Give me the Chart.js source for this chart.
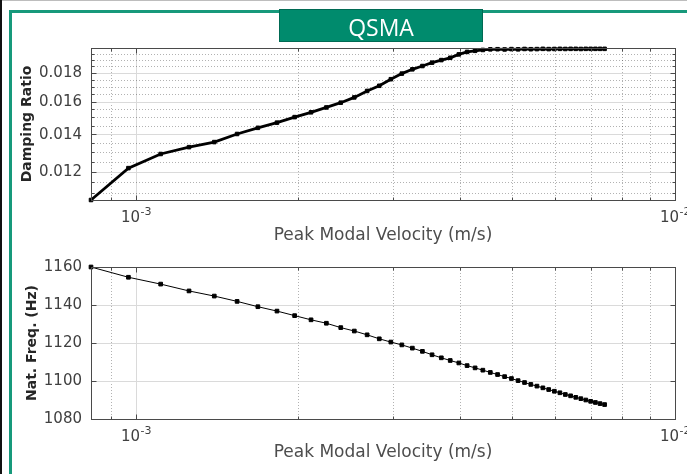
<!DOCTYPE html>
<html>
<head>
<meta charset="utf-8">
<title>QSMA</title>
<script src="https://cdn.jsdelivr.net/npm/chart.js@4.4.1/dist/chart.umd.min.js"></script>
<style>
  html, body { margin: 0; padding: 0; background: #fff; }
  #page { position: relative; width: 687px; height: 474px; overflow: hidden; background: #fff; }
  .rule-top { position: absolute; left: 0; top: 0; width: 687px; height: 1px; background: #bdbdbd; }
  .rule-left { position: absolute; left: 0; top: 0; width: 2px; height: 474px; background: #111; }
  .frame { position: absolute; left: 9px; top: 10px; width: 720px; height: 520px;
           border-left: 3px solid #17997b; border-top: 3px solid #17997b; }
  .banner { position: absolute; left: 279px; top: 9px; width: 204px; height: 33px; box-sizing: border-box;
            background: #008b6d; border: 1px solid #006a53; color: #fff; padding-top: 2px;
            font: 23px "Open Sans", sans-serif; display: flex; align-items: center; justify-content: center; }
  canvas { position: absolute; left: 0; }
</style>
</head>
<body>
<div id="page">
  <div class="rule-top"></div>
  <div class="rule-left"></div>
  <div class="frame"></div>
  <canvas id="damping" width="720" height="220" style="top:30px"></canvas>
  <canvas id="freq" width="720" height="229" style="top:245px"></canvas>
  <div class="banner">QSMA</div>
</div>
<script>
// peak modal velocity of each measurement (m/s)
const velocity = [
  0.000825, 0.000968, 0.001111, 0.001254, 0.001397, 0.001540, 0.001683, 0.001826, 0.001969, 0.002112,
  0.002255, 0.002398, 0.002541, 0.002684, 0.002827, 0.002970, 0.003113, 0.003256, 0.003399, 0.003542,
  0.003685, 0.003828, 0.003971, 0.004114, 0.004257, 0.004400, 0.004543, 0.004686, 0.004829, 0.004972,
  0.005115, 0.005258, 0.005401, 0.005544, 0.005687, 0.005830, 0.005973, 0.006116, 0.006259, 0.006402,
  0.006545, 0.006688, 0.006831, 0.006974, 0.007117, 0.007260, 0.007403
];
const dampingRatio = [
  0.01070, 0.01220, 0.01293, 0.01330, 0.01358, 0.01404, 0.01440, 0.01471, 0.01505, 0.01535,
  0.01566, 0.01597, 0.01632, 0.01676, 0.01712, 0.01759, 0.01800, 0.01832, 0.01857, 0.01883,
  0.01903, 0.01921, 0.01948, 0.01968, 0.01977, 0.01984, 0.01989, 0.01990, 0.01988, 0.01991,
  0.01989, 0.01992, 0.01990, 0.01991, 0.01993, 0.01991, 0.01992, 0.01993, 0.01992, 0.01993,
  0.01993, 0.01992, 0.01993, 0.01993, 0.01993, 0.01993, 0.01993
];
const natFreq = [
  1160.0, 1154.6, 1151.0, 1147.4, 1144.7, 1141.9, 1139.1, 1136.8, 1134.4, 1132.2,
  1130.4, 1128.1, 1126.3, 1124.3, 1122.2, 1120.5, 1119.0, 1117.3, 1115.6, 1113.8,
  1112.2, 1110.8, 1109.5, 1108.1, 1106.9, 1105.7, 1104.5, 1103.4, 1102.3, 1101.3,
  1100.2, 1099.2, 1098.2, 1097.3, 1096.4, 1095.5, 1094.6, 1093.8, 1092.9, 1092.2,
  1091.4, 1090.7, 1090.0, 1089.3, 1088.7, 1088.1, 1087.6
];

// axis ticks; decade labels are written as base + exponent
const xMajorTicks = [0.001, 0.01];
const xLabelBase = ['10', '10'];
const xLabelExp = ['-3', '-2'];
const xMinorTicks = [0.0009, 0.002, 0.003, 0.004, 0.005, 0.006, 0.007, 0.008, 0.009];
const dampMajorTicks = [0.012, 0.014, 0.016, 0.018];
const dampMajorLabels = ['0.012', '0.014', '0.016', '0.018'];
const dampMinorTicks = [0.011, 0.0115, 0.0125, 0.013, 0.0135, 0.0145, 0.015, 0.0155,
                        0.0165, 0.017, 0.0175, 0.0185, 0.019, 0.0195];
const freqTicks = [1080, 1100, 1120, 1140, 1160];
const freqLabels = ['1080', '1100', '1120', '1140', '1160'];

const X_MIN = 0.000825, X_MAX = 0.01;

const FONT = '"DejaVu Sans", "Liberation Sans", sans-serif';
Chart.defaults.font.family = FONT;
Chart.defaults.animation = false;

const tickColor = '#404040';
const majorGrid = '#dadada';
const minorGrid = 'rgba(0,0,0,0.3)';

function tickList(major, minor) {
  return major.map(v => ({ value: v, major: true }))
    .concat(minor.map(v => ({ value: v, major: false })))
    .sort((a, b) => a.value - b.value);
}

function labelFor(values, labels) {
  return function(value, index, ticks) {
    if (!ticks[index].major) return '';
    const k = values.findIndex(v => Math.abs(v - value) < 1e-9);
    return k < 0 ? '' : labels[k];
  };
}

const gridColor = c => (c.tick && !c.tick.major) ? minorGrid : majorGrid;
const gridDash = c => (c.tick && !c.tick.major) ? [1, 2] : [];

function velocityAxis(axisHeight, titleGap) {
  return {
    type: 'logarithmic',
    position: 'bottom',
    min: X_MIN,
    max: X_MAX,
    afterBuildTicks: s => { s.ticks = tickList(xMajorTicks, xMinorTicks); },
    afterFit: s => { s.height = axisHeight; },
    grid: { color: gridColor, lineWidth: 1, drawTicks: false },
    border: { display: false, dash: gridDash },
    ticks: { display: false, autoSkip: false },
    title: {
      display: true, text: 'Peak Modal Velocity (m/s)', color: '#4d4d4d',
      font: { size: 17 }, padding: { top: 0, bottom: titleGap }
    }
  };
}

// box round the plot area with inward tick marks on all four sides
const axesBox = {
  id: 'axesBox',
  afterDraw(chart) {
    const { ctx, chartArea: a, scales } = chart;
    const al = p => Math.round(p - 0.5) + 0.5;
    const l = al(a.left), r = al(a.right), t = al(a.top), b = al(a.bottom);
    ctx.save();
    ctx.strokeStyle = '#4a4a4a';
    ctx.lineWidth = 1;
    ctx.strokeRect(l, t, r - l, b - t);
    ctx.beginPath();
    scales.x.ticks.forEach(tk => {
      const px = al(scales.x.getPixelForValue(tk.value));
      const len = tk.major ? 5 : 3;
      ctx.moveTo(px, b); ctx.lineTo(px, b - len);
      ctx.moveTo(px, t); ctx.lineTo(px, t + len);
    });
    scales.y.ticks.forEach(tk => {
      const py = al(scales.y.getPixelForValue(tk.value));
      const len = tk.major ? 5 : 3;
      ctx.moveTo(l, py); ctx.lineTo(l + len, py);
      ctx.moveTo(r, py); ctx.lineTo(r - len, py);
    });
    ctx.stroke();
    ctx.restore();
  }
};

// decade labels under the velocity axis, with a raised exponent
const decadeLabels = {
  id: 'decadeLabels',
  afterDraw(chart) {
    const { ctx, chartArea: a, scales } = chart;
    ctx.save();
    ctx.fillStyle = tickColor;
    ctx.textBaseline = 'alphabetic';
    ctx.textAlign = 'left';
    xMajorTicks.forEach((v, i) => {
      const px = scales.x.getPixelForValue(v);
      ctx.font = '15px ' + FONT;
      const wb = ctx.measureText(xLabelBase[i]).width;
      ctx.font = '11px ' + FONT;
      const we = ctx.measureText(xLabelExp[i]).width;
      const x0 = px - (wb + we) / 2;
      ctx.font = '15px ' + FONT;
      ctx.fillText(xLabelBase[i], x0, a.bottom + 22);
      ctx.font = '11px ' + FONT;
      ctx.fillText(xLabelExp[i], x0 + wb + 0.5, a.bottom + 15);
    });
    ctx.restore();
  }
};

function points(ys) {
  return velocity.map((v, i) => ({ x: v, y: ys[i] }));
}

// damping ratio vs velocity (log-log)
new Chart(document.getElementById('damping'), {
  type: 'scatter',
  data: {
    datasets: [{
      data: points(dampingRatio),
      showLine: true,
      borderColor: '#000',
      backgroundColor: '#000',
      borderWidth: 2.8,
      pointStyle: 'rect',
      pointRadius: 2.5,
      pointBorderWidth: 1,
      clip: false
    }]
  },
  options: {
    responsive: false,
    events: [],
    layout: { padding: { top: 17, right: 45, left: 0, bottom: 0 } },
    plugins: { legend: { display: false }, tooltip: { enabled: false } },
    scales: {
      x: velocityAxis(50, 4),
      y: {
        type: 'logarithmic',
        min: 0.0107,
        max: 0.02,
        afterBuildTicks: s => { s.ticks = tickList(dampMajorTicks, dampMinorTicks); },
        afterFit: s => { s.width = 91; },
        grid: { color: gridColor, lineWidth: 1, drawTicks: false },
        border: { display: false, dash: gridDash },
        ticks: {
          autoSkip: false, padding: 9, color: tickColor, font: { size: 15 },
          callback: labelFor(dampMajorTicks, dampMajorLabels)
        },
        title: {
          display: true, text: 'Damping Ratio', color: '#262626',
          font: { size: 14, weight: 'bold' }, padding: { top: 19, bottom: 0 }
        }
      }
    }
  },
  plugins: [axesBox, decadeLabels]
});

// natural frequency vs velocity
new Chart(document.getElementById('freq'), {
  type: 'scatter',
  data: {
    datasets: [{
      data: points(natFreq),
      showLine: true,
      borderColor: '#000',
      backgroundColor: '#000',
      borderWidth: 1,
      pointStyle: 'rect',
      pointRadius: 2.6,
      pointBorderWidth: 1,
      clip: false
    }]
  },
  options: {
    responsive: false,
    events: [],
    layout: { padding: { top: 22, right: 45, left: 0, bottom: 0 } },
    plugins: { legend: { display: false }, tooltip: { enabled: false } },
    scales: {
      x: velocityAxis(55, 11),
      y: {
        type: 'linear',
        min: 1080,
        max: 1160,
        afterBuildTicks: s => { s.ticks = tickList(freqTicks, []); },
        afterFit: s => { s.width = 91; },
        grid: { color: majorGrid, lineWidth: 1, drawTicks: false },
        border: { display: false },
        ticks: {
          autoSkip: false, padding: 9, color: tickColor, font: { size: 15 },
          callback: labelFor(freqTicks, freqLabels)
        },
        title: {
          display: true, text: 'Nat. Freq. (Hz)', color: '#262626',
          font: { size: 14, weight: 'bold' }, padding: { top: 24, bottom: 0 }
        }
      }
    }
  },
  plugins: [axesBox, decadeLabels]
});
</script>
</body>
</html>
